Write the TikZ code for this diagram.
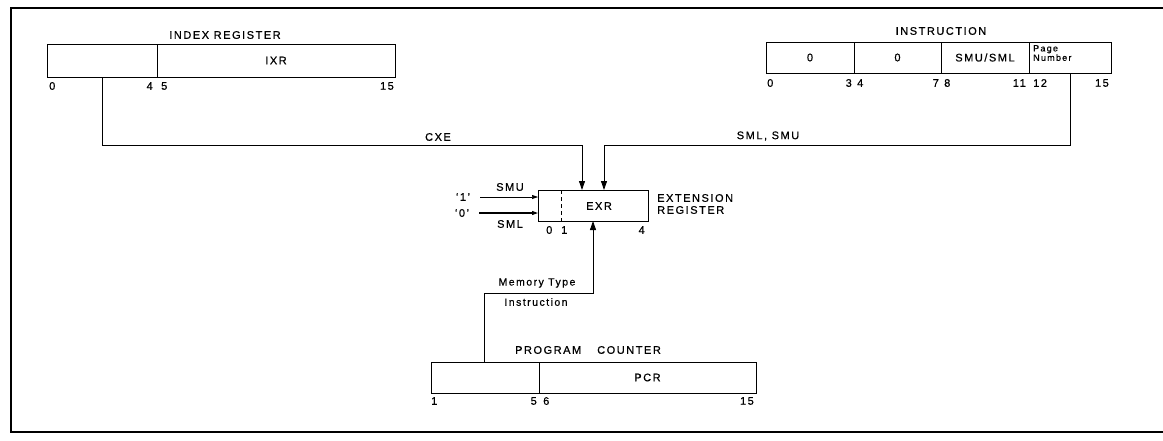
\documentclass[tikz,border=0pt]{standalone}
\usepackage{fontspec}
\setmainfont{Liberation Sans}
\newfontfamily\lsp[LetterSpace=14,FakeBold=0.6]{Liberation Sans}
\usetikzlibrary{arrows.meta,calc}
\begin{document}
\begin{tikzpicture}[x=1pt,y=-1pt,
  cell/.style={draw, line width=0.9pt, inner sep=0pt, outer sep=0pt, anchor=north west, font=\lsp\fontsize{11}{12}\selectfont},
  lbl/.style={inner sep=0pt, font=\lsp\fontsize{11}{12}\selectfont},
  bitl/.style={inner sep=0pt, anchor=west, font=\lsp\fontsize{11}{12}\selectfont},
  bitr/.style={inner sep=0pt, anchor=east, font=\lsp\fontsize{11}{12}\selectfont},
  small/.style={inner sep=0pt, font=\lsp\fontsize{10.5}{12}\selectfont},
  conn/.style={line width=0.9pt},
  tip/.style={-{Triangle[length=9pt,width=6pt]}},
  stip/.style={-{Triangle[length=6pt,width=4pt]}}]
\useasboundingbox (0,0) rectangle (1163,440);
% frame
\draw[line width=2pt] (1175,8) -- (11,8) -- (11,432) -- (1175,432);

% INDEX REGISTER
\node[lbl] (ixlbl) at (225,35) {INDEX REGISTER};
\node[cell, minimum width=110pt, minimum height=33pt] (ixa) at (47,44) {};
\node[cell, minimum width=238pt, minimum height=33pt] (ixb) at (157,44) {IXR};
\node[bitl] (ix0) at (49,86) {0};
\node[bitr] (ix4) at (153,86) {4};
\node[bitl] (ix5) at (161,86) {5};
\node[bitr] (ix15) at (394,86) {15};

% INSTRUCTION
\node[lbl] (inlbl) at (941,31) {INSTRUCTION};
\node[cell, minimum width=88pt, minimum height=31pt] (ina) at (766,42) {0};
\node[cell, minimum width=87pt, minimum height=31pt] (inb) at (854,42) {0};
\node[cell, minimum width=88pt, minimum height=31pt] (inc) at (941,42) {SMU/SML};
\node[cell, minimum width=82pt, minimum height=31pt] (ind) at (1029,42) {};
\node[inner sep=0pt, anchor=north west, align=left, font=\lsp\fontsize{9}{7}\selectfont] (pn) at (1033,45) {Page\\Number};
\node[bitl] (in0) at (767,83) {0};
\node[bitr] (in3) at (852,83) {3};
\node[bitl] (in4) at (857,83) {4};
\node[bitr] (in7) at (939,83) {7};
\node[bitl] (in8) at (944,83) {8};
\node[bitr] (in11) at (1026,83) {11};
\node[bitl] (in12) at (1033,83) {12};
\node[bitr] (in15) at (1109,83) {15};

% EXTENSION REGISTER
\node[cell, minimum width=110pt, minimum height=31pt] (exr) at (538,190) {};
\node[lbl] (exrt) at (599,206) {EXR};
\draw[line width=0.9pt, dash pattern=on 4pt off 3pt] (561,190) -- (561,221);
\node[lbl, anchor=west, align=left] (exlbl) at (657,204) {EXTENSION\\[0pt]REGISTER};
\node[bitl] (ex0) at (546,230) {0};
\node[bitl] (ex1) at (561,230) {1};
\node[bitr] (ex4) at (645,230) {4};

% inputs to EXR
\node[lbl] (one) at (463,197) {‘1’};
\node[lbl] (zero) at (462,213) {‘0’};
\node[lbl] (smu) at (510,187) {SMU};
\node[lbl] (sml) at (510,224) {SML};
\draw[line width=0.6pt, stip] (one.east) ++(10,0) -- (exr.west |- one.east);
\draw[line width=1.1pt, stip] (zero.east) ++(10,0) -- (exr.west |- zero.east);

% PROGRAM COUNTER
\node[lbl] (pclbl) at (588,350) {PROGRAM\hspace{16pt}COUNTER};
\node[cell, minimum width=108pt, minimum height=31pt] (pca) at (431,362) {};
\node[cell, minimum width=217pt, minimum height=31pt] (pcb) at (539,362) {PCR};
\node[bitl] (pc1) at (431,401) {1};
\node[bitr] (pc5) at (537,401) {5};
\node[bitl] (pc6) at (543,401) {6};
\node[bitr] (pc15) at (754,401) {15};

% connectors
\coordinate (ixtap) at ($(ixa.south west)+(55,0)$);
\coordinate (intap) at ($(ind.south west)+(41,0)$);
\coordinate (pctap) at ($(pca.north west)+(53,0)$);
\coordinate (cxein) at ($(exr.north west)+(44,0)$);
\coordinate (smlin) at ($(exr.north west)+(66,0)$);
\coordinate (memin) at ($(exr.south west)+(55,0)$);

\draw[conn, tip] (ixtap) |- ($(cxein)+(0,-45)$) -- (cxein);
\draw[conn, tip] (intap) |- ($(smlin)+(0,-45)$) -- (smlin);
\draw[conn, tip] (pctap) |- ($(memin)+(0,72)$) -- (memin);

\node[lbl] (cxe) at (438,137) {CXE};
\node[lbl] (smlsmu) at (768,136) {SML, SMU};
\node[small] (mt) at (537,283) {Memory Type};
\node[small] (mti) at (536,302) {Instruction};
\end{tikzpicture}
\end{document}
